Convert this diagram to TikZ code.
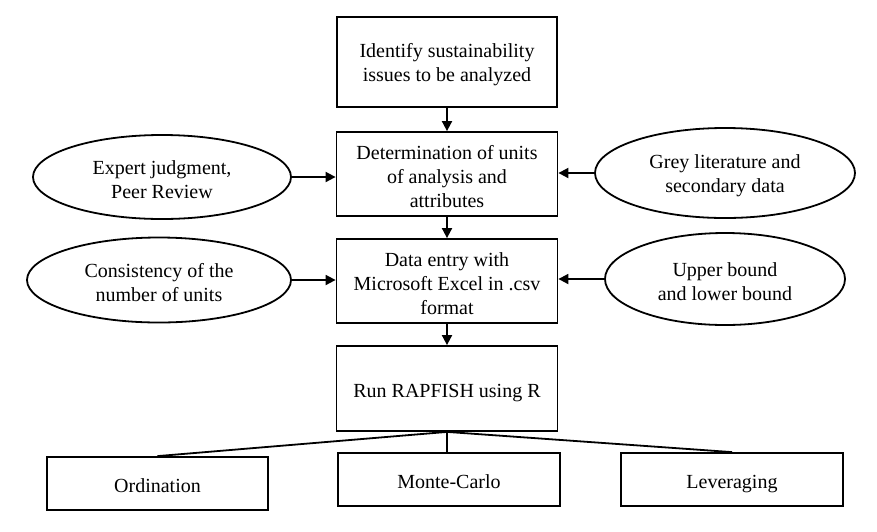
\documentclass[tikz,border=0pt]{standalone}
\usepackage{fontspec}
\setmainfont{Liberation Serif}
\usetikzlibrary{shapes.geometric,arrows.meta}
\newcommand{\topfix}{\rule{0pt}{20pt}}
\newcommand{\onefix}{\rule[-7.2pt]{0pt}{32pt}}
\begin{document}
\begin{tikzpicture}[x=1pt,y=-1pt,
  txt/.style={font=\fontsize{20}{24}\selectfont, align=center},
  box/.style={txt, draw, line width=1.8pt, inner sep=0pt},
  ell/.style={txt, draw, ellipse, line width=1.8pt, inner sep=0pt},
  arr/.style={line width=1.8pt, -{Triangle[length=10pt,width=10pt]}},
  ln/.style={line width=1.8pt}]
\useasboundingbox (0,0) rectangle (877,531);
\fill[white] (0,0) rectangle (877,531);
\node[box, minimum width=220pt, minimum height=90pt] (b1) at (447,62) {\topfix Identify sustainability\\issues to be analyzed};
\node[box, minimum width=221pt, minimum height=84pt] (b2) at (447,174) {\topfix Determination of units\\of analysis and\\attributes};
\node[box, minimum width=221pt, minimum height=84pt] (b3) at (447,281) {\topfix Data entry with\\Microsoft Excel in .csv\\format};
\node[box, minimum width=221pt, minimum height=85pt] (b4) at (447,388.5) {\onefix Run RAPFISH using R};
\node[box, minimum width=221pt, minimum height=53pt] (o) at (157.5,483.5) {\onefix Ordination};
\node[box, minimum width=222pt, minimum height=53pt] (m) at (449,479.5) {\onefix Monte-Carlo};
\node[box, minimum width=222pt, minimum height=53pt] (l) at (732,479.5) {\onefix Leveraging};
\node[ell, minimum width=258pt, minimum height=84pt] (e1) at (162,177) {\topfix Expert judgment,\\Peer Review};
\node[ell, minimum width=264pt, minimum height=85pt] (e2) at (159,280) {\topfix Consistency of the\\number of units};
\node[ell, minimum width=260pt, minimum height=90pt] (e3) at (725,173) {\topfix Grey literature and\\secondary data};
\node[ell, minimum width=240pt, minimum height=92pt] (e4) at (725,279) {\topfix Upper bound\\and lower bound};
\draw[arr] (b1) -- (b2);
\draw[arr] (b2) -- (b3);
\draw[arr] (b3) -- (b4);
\draw[arr] (e1.east) -- (e1.east -| b2.west);
\draw[arr] (e2.east) -- (e2.east -| b3.west);
\draw[arr] (e3.west) -- (e3.west -| b2.east);
\draw[arr] (e4.west) -- (e4.west -| b3.east);
\draw[ln] (b4.south) -- (o.north);
\draw[ln] (b4.south) -- (b4.south |- m.north);
\draw[ln] (b4.south) -- (l.north);
\end{tikzpicture}
\end{document}
